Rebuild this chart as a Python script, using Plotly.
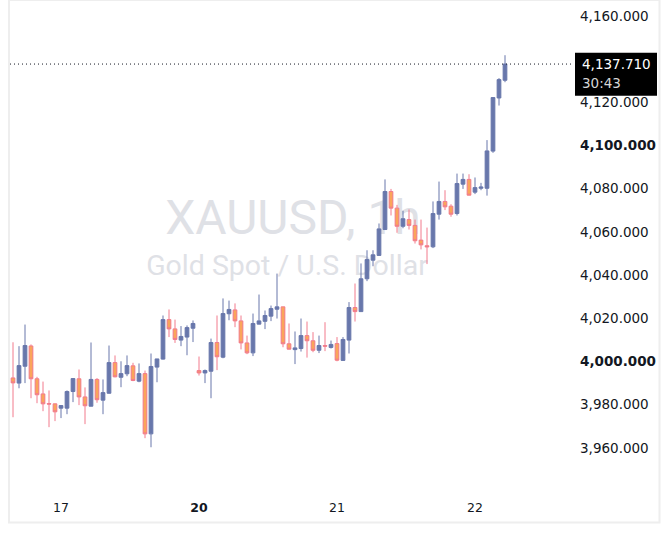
import plotly.graph_objects as go

# ---- data (hourly XAUUSD candles) ----
opens = [3992.4, 3990.0, 3997.8, 4007.2, 3992.0, 3985.0, 3980.5, 3980.4, 3978.4, 3978.4,
         3986.1, 3992.0, 3983.6, 3979.3, 3991.7, 3982.1, 3985.3, 3999.5, 3992.7, 3994.3,
         3998.0, 3990.9, 3994.4, 3966.5, 3997.4, 4001.1, 4019.4, 4015.1, 4009.9, 4011.3,
         4015.4, 3995.8, 3994.7, 3995.5, 4008.8, 4002.0, 4022.1, 4023.9, 4018.8, 4008.6,
         4004.0, 4017.3, 4018.6, 4021.0, 4024.2, 4025.3, 4008.2, 4005.5, 4006.0, 4012.0,
         4009.6, 4005.2, 4007.4, 4006.5, 4008.3, 4000.5, 4009.9, 4025.0, 4023.1, 4038.3,
         4046.9, 4049.1, 4061.1, 4078.7, 4071.0, 4062.6, 4065.7, 4063.0, 4056.2, 4053.6,
         4053.1, 4068.2, 4074.1, 4071.9, 4068.5, 4082.1, 4084.3, 4078.4, 4080.2, 4080.2,
         4097.4, 4122.0, 4130.2]
highs = [4008.9, 4007.1, 4017.1, 4007.9, 3992.9, 3990.7, 3986.6, 3980.5, 3979.6, 3986.6,
         3992.1, 3996.3, 3988.0, 4008.8, 3992.3, 3991.7, 4007.4, 4002.8, 4000.1, 4002.8,
         3999.4, 3999.1, 3995.8, 4003.7, 4001.2, 4021.3, 4024.1, 4019.4, 4016.4, 4016.7,
         4019.0, 4002.3, 3996.3, 4010.6, 4021.3, 4029.2, 4028.2, 4026.9, 4021.3, 4012.0,
         4022.2, 4031.0, 4023.6, 4025.9, 4040.7, 4025.3, 4017.6, 4013.9, 4019.9, 4018.5,
         4013.6, 4012.0, 4018.2, 4009.7, 4011.3, 4011.3, 4027.5, 4036.1, 4045.4, 4051.5,
         4051.5, 4063.9, 4084.3, 4079.9, 4072.5, 4069.8, 4070.4, 4065.7, 4065.7, 4062.0,
         4074.1, 4083.3, 4079.3, 4072.8, 4087.0, 4087.0, 4086.7, 4085.2, 4082.7, 4102.5,
         4122.2, 4131.2, 4141.8]
lows = [3974.2, 3987.6, 3990.0, 3983.0, 3980.7, 3977.0, 3969.6, 3972.4, 3973.8, 3975.6,
        3981.2, 3979.8, 3971.0, 3979.3, 3980.9, 3975.6, 3985.2, 3992.7, 3988.1, 3993.2,
        3990.9, 3990.4, 3964.5, 3960.3, 3990.4, 4000.9, 4011.3, 4008.6, 4007.1, 4002.9,
        4009.0, 3993.5, 3990.0, 3983.0, 3996.0, 4001.5, 4019.1, 4015.9, 4005.6, 4003.4,
        4002.5, 4017.3, 4015.0, 4018.7, 4019.9, 4006.6, 4005.6, 3998.8, 4004.6, 4001.8,
        4004.3, 4003.9, 4004.8, 4006.0, 4000.1, 4000.5, 4003.7, 4018.5, 4023.1, 4037.2,
        4044.1, 4049.1, 4061.1, 4067.6, 4059.6, 4061.7, 4061.1, 4054.6, 4051.9, 4045.1,
        4052.5, 4065.7, 4070.1, 4067.0, 4067.6, 4079.9, 4076.9, 4077.5, 4079.3, 4076.8,
        4096.6, 4118.5, 4129.3]
closes = [3990.1, 3998.1, 4007.4, 3992.0, 3984.6, 3980.4, 3980.3, 3976.7, 3979.6, 3986.1,
          3992.1, 3983.6, 3979.5, 3991.7, 3982.3, 3985.6, 3999.5, 3992.9, 3994.4, 3998.1,
          3991.2, 3994.4, 3966.5, 3997.7, 4001.2, 4019.4, 4015.1, 4010.2, 4011.6, 4015.7,
          4017.6, 3994.7, 3995.8, 4008.8, 4002.2, 4022.2, 4024.1, 4018.8, 4008.6, 4004.0,
          4017.6, 4018.8, 4021.3, 4024.5, 4025.3, 4008.2, 4005.7, 4006.3, 4012.0, 4009.6,
          4005.2, 4007.4, 4007.1, 4007.9, 4000.6, 4010.2, 4025.0, 4023.1, 4038.3, 4047.2,
          4049.4, 4061.4, 4078.7, 4071.0, 4062.6, 4066.1, 4063.0, 4055.9, 4054.0, 4053.1,
          4068.5, 4074.1, 4071.6, 4068.2, 4082.4, 4084.3, 4077.0, 4080.5, 4080.8, 4097.5,
          4122.2, 4130.5, 4137.71]
bar_index = list(range(len(opens)))

day_tick_index = [8, 31, 54, 77]
day_tick_text = ["17", "<b>20</b>", "21", "22"]

price_ticks = [3960, 3980, 4000, 4020, 4040, 4060, 4080, 4100, 4120, 4160]
bold_ticks = [4000, 4100]
price_tick_text = [("<b>%s</b>" if p in bold_ticks else "%s") % f"{p:,.3f}" for p in price_ticks]

last_price = 4137.71
countdown = "30:43"
symbol_title = "XAUUSD, 1h"
symbol_desc = "Gold Spot / U.S. Dollar"

UP = "#6877ab"
DOWN_FILL = "#faa55a"
DOWN_LINE = "#f27b8c"
FONT = "DejaVu Sans"

# plot area pixels: x 10..574, y 1..494
PL, PR, PT, PB = 10, 574, 1, 494
W, H = PR - PL, PB - PT

def px_x(x):
    return (x - PL) / W

def px_y(y):
    return (PB - y) / H

fig = go.Figure()

# watermark in the base subplot (drawn below the candles)
fig.add_trace(go.Scatter(
    x=[px_x(293), px_x(287)], y=[px_y(222), px_y(268)],
    mode="text", text=[symbol_title, symbol_desc],
    textfont=dict(family="Roboto", size=[48, 28.5], color="#dfe1e6"),
    textposition="middle center", hoverinfo="skip", showlegend=False,
    xaxis="x", yaxis="y",
))

fig.add_trace(go.Candlestick(
    x=bar_index, open=opens, high=highs, low=lows, close=closes,
    increasing=dict(line=dict(color=UP, width=1), fillcolor=UP),
    decreasing=dict(line=dict(color=DOWN_LINE, width=1), fillcolor=DOWN_FILL),
    whiskerwidth=0, hoverinfo="skip", showlegend=False,
    xaxis="x2", yaxis="y2",
))

y_top = 4000 + (361.5 - PT) / 2.16
y_bot = 4000 - (PB - 361.5) / 2.16

fig.update_layout(
    width=670, height=540,
    margin=dict(l=PL, r=670 - PR, t=PT, b=540 - PB),
    paper_bgcolor="white", plot_bgcolor="white",
    boxgap=0.12,
    xaxis=dict(range=[0, 1], visible=False, fixedrange=True),
    yaxis=dict(range=[0, 1], visible=False, fixedrange=True),
    xaxis2=dict(overlaying="x", anchor="y2", side="bottom",
                range=[-0.5, (PR - 13) / 6],
                tickmode="array", tickvals=day_tick_index, ticktext=day_tick_text,
                showgrid=False, zeroline=False, showline=False, ticks="",
                tickfont=dict(family=FONT, size=12.5, color="#131722"),
                ticklabelstandoff=4,
                rangeslider=dict(visible=False)),
    yaxis2=dict(overlaying="y", anchor="x2", side="right",
                range=[y_bot, y_top],
                tickmode="array", tickvals=price_ticks, ticktext=price_tick_text,
                showgrid=False, zeroline=False, showline=False, ticks="",
                tickfont=dict(family=FONT, size=13.5, color="#131722"),
                ticklabelstandoff=5),
    font=dict(family=FONT),
    shapes=[
        # chart frame
        dict(type="rect", xref="paper", yref="paper",
             x0=px_x(9), x1=px_x(659.5), y0=px_y(522.5), y1=px_y(0),
             line=dict(color="#eeeeee", width=2), fillcolor="rgba(0,0,0,0)", layer="below"),
        # last price dotted line
        dict(type="line", xref="paper", yref="y2", x0=0, x1=1, y0=last_price, y1=last_price,
             line=dict(color="#131722", width=1, dash="1px,3px")),
        # price label box
        dict(type="rect", xref="paper", yref="paper",
             x0=px_x(575), x1=px_x(657), y0=px_y(95.7), y1=px_y(52.7),
             line=dict(width=0), fillcolor="#000000"),
    ],
    annotations=[
        dict(xref="paper", yref="paper", x=px_x(579.5), y=px_y(64),
             xanchor="left", yanchor="middle", showarrow=False,
             text=f"{last_price:,.3f}", font=dict(family=FONT, size=13.5, color="#ffffff")),
        dict(xref="paper", yref="paper", x=px_x(579.5), y=px_y(82.5),
             xanchor="left", yanchor="middle", showarrow=False,
             text=countdown, font=dict(family=FONT, size=13.5, color="#d6d6d6")),
    ],
)

fig.write_html("out.html")
